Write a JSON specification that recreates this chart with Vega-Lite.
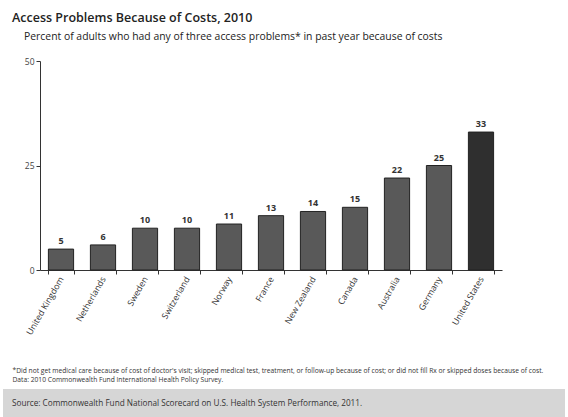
{
  "$schema": "https://vega.github.io/schema/vega-lite/v6.json",
  "padding": {"left": 3, "top": 12, "right": 3, "bottom": 0},
  "background": "white",
  "config": {"font": "Open Sans", "view": {"stroke": null}},
  "title": {"text": "Access Problems Because of Costs, 2010", "anchor": "start", "dx": 9, "fontSize": 12.5, "fontWeight": 600, "color": "#222", "font": "Open Sans", "offset": 7},
  "vconcat": [
    {
      "width": 462,
      "height": 209,
      "title": {"text": "Percent of adults who had any of three access problems* in past year because of costs", "anchor": "start", "frame": "bounds", "dx": 21, "fontSize": 10.4, "fontWeight": "normal", "color": "#222", "offset": 15},
      "data": {"values": [
        {"country": "United Kingdom", "pct": 5, "group": "other"},
        {"country": "Netherlands", "pct": 6, "group": "other"},
        {"country": "Sweden", "pct": 10, "group": "other"},
        {"country": "Switzerland", "pct": 10, "group": "other"},
        {"country": "Norway", "pct": 11, "group": "other"},
        {"country": "France", "pct": 13, "group": "other"},
        {"country": "New Zealand", "pct": 14, "group": "other"},
        {"country": "Canada", "pct": 15, "group": "other"},
        {"country": "Australia", "pct": 22, "group": "other"},
        {"country": "Germany", "pct": 25, "group": "other"},
        {"country": "United States", "pct": 33, "group": "us"}
      ]},
      "encoding": {
        "x": {"field": "country", "type": "nominal", "sort": null,
          "scale": {"paddingInner": 0.4, "paddingOuter": 0.2},
          "axis": {"labelAngle": -60, "labelFontSize": 8.7, "labelColor": "#333", "tickBand": "extent", "tickSize": 4, "domainColor": "#333", "tickColor": "#333", "labelPadding": 3,
            "title": ["*Did not get medical care because of cost of doctor's visit; skipped medical test, treatment, or follow-up because of cost; or did not fill Rx or skipped doses because of cost.", "Data: 2010 Commonwealth Fund International Health Policy Survey."],
            "titleAnchor": "start", "titleAlign": "left", "titleX": -28, "titleY": 97, "titleBaseline": "top", "titleFontSize": 6.7, "titleFontWeight": "normal", "titleColor": "#333", "titleLineHeight": 9}},
        "y": {"field": "pct", "type": "quantitative", "scale": {"domain": [0, 50]},
          "axis": {"values": [0, 25, 50], "grid": false, "title": null, "labelFontSize": 8.5, "labelColor": "#444", "tickSize": 4, "domainColor": "#333", "tickColor": "#333", "minExtent": 37}}
      },
      "layer": [
        {"mark": {"type": "bar", "stroke": "#222", "strokeWidth": 1},
          "encoding": {"color": {"field": "group", "type": "nominal", "scale": {"domain": ["other", "us"], "range": ["#595959", "#2f2f2f"]}, "legend": null}}},
        {"mark": {"type": "text", "dy": -8, "fontSize": 9, "fontWeight": "bold", "color": "#333"},
          "encoding": {"text": {"field": "pct", "type": "quantitative"}}}
      ]
    },
    {
      "width": 525,
      "height": 32,
      "data": {"values": [{"note": "Source: Commonwealth Fund National Scorecard on U.S. Health System Performance, 2011."}]},
      "layer": [
        {"mark": {"type": "rect", "color": "#d6d6d6"},
          "encoding": {"x": {"value": -37}, "x2": {"value": 525}, "y": {"value": 0}, "y2": {"value": 32}}},
        {"mark": {"type": "text", "align": "left", "baseline": "middle", "fontSize": 8.2, "color": "#333"},
          "encoding": {"text": {"field": "note", "type": "nominal"}, "x": {"value": -28}, "y": {"value": 15}}}
      ]
    }
  ],
  "spacing": 6
}
